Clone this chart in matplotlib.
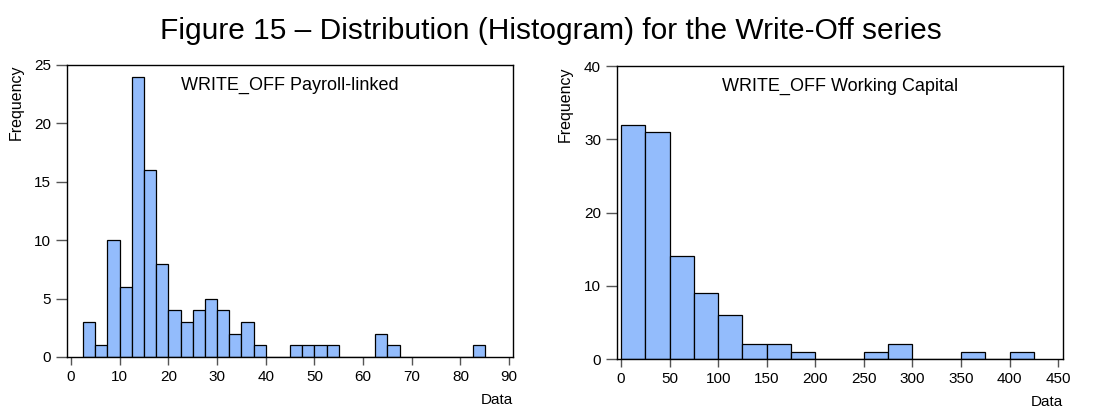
import numpy as np
import matplotlib
matplotlib.use('Agg')
import matplotlib.pyplot as plt

plt.rcParams['font.family'] = ['Liberation Sans', 'DejaVu Sans']

# left panel: bins of 2.5 starting at 2.5
payroll_start = 2.5
payroll_width = 2.5
payroll_counts = [3, 1, 10, 6, 24, 16, 8, 4, 3, 4, 5, 4, 2, 3, 1, 0, 0,
                  1, 1, 1, 1, 0, 0, 0, 2, 1, 0, 0, 0, 0, 0, 0, 1]

# right panel: bins of 25 starting at 0
wc_start = 0
wc_width = 25
wc_counts = [32, 31, 14, 9, 6, 2, 2, 1, 0, 0, 1, 2, 0, 0, 1, 0, 1]

bar_color = '#93BCFC'

fig = plt.figure(figsize=(11.01, 4.07), dpi=100)
fig.text(0.5, 0.925, 'Figure 15 \u2013 Distribution (Histogram) for the Write-Off series',
         ha='center', va='center', fontsize=21.5)

ax1 = fig.add_axes([0.0609, 0.1229, 0.4051, 0.7174])
ax2 = fig.add_axes([0.5604, 0.1179, 0.4051, 0.7199])


def draw_hist(ax, start, width, counts, title, xlim, ylim, xticks, yticks):
    lefts = start + width * np.arange(len(counts))
    ax.bar(lefts, counts, width=width, align='edge', color=bar_color,
           edgecolor='black', linewidth=0.9)
    ax.set_xlim(*xlim)
    ax.set_ylim(*ylim)
    ax.set_xticks(xticks)
    ax.set_yticks(yticks)
    ax.tick_params(axis='both', labelsize=11, color='#555555', length=6, width=1)
    ax.tick_params(axis='y', length=8)
    for s in ax.spines.values():
        s.set_linewidth(1)
    ax.text(0.5, 0.93, title, transform=ax.transAxes, ha='center', va='center', fontsize=13)
    ax.set_xlabel('Data', loc='right', fontsize=11, labelpad=6)
    ax.text(-0.115, 1.0, 'Frequency', transform=ax.transAxes, rotation=90,
            ha='center', va='top', fontsize=11.5)


draw_hist(ax1, payroll_start, payroll_width, payroll_counts, 'WRITE_OFF Payroll-linked',
          (-0.8, 90.8), (0, 25), range(0, 91, 10), range(0, 26, 5))
draw_hist(ax2, wc_start, wc_width, wc_counts, 'WRITE_OFF Working Capital',
          (-4.1, 455), (0, 40), range(0, 451, 50), range(0, 41, 10))

fig.savefig('out.png', dpi=100)
